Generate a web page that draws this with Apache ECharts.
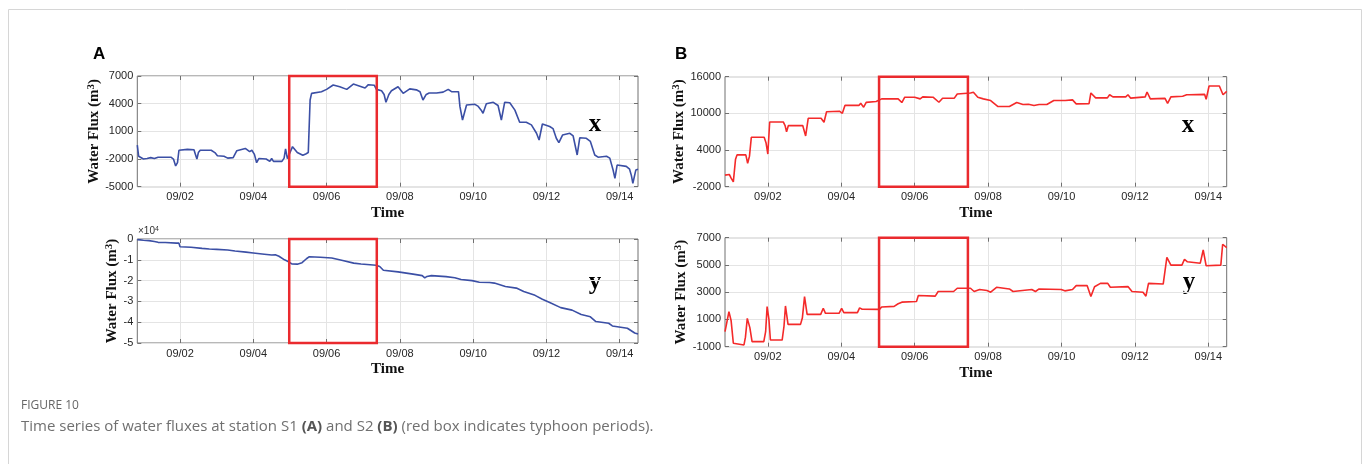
<!DOCTYPE html>
<html><head><meta charset="utf-8">
<script src="https://cdn.jsdelivr.net/npm/echarts@6/dist/echarts.min.js"></script>
<style>html,body{margin:0;padding:0;background:#fff}#c{width:1370px;height:464px}</style>
</head><body><div id="c"></div>
<script>
// time axis: days since 09/01 00:00
const dayTicks = [1, 3, 5, 7, 9, 11, 13];
const dayLabels = ['09/02', '09/04', '09/06', '09/08', '09/10', '09/12', '09/14'];
const tMin = -0.167, tMax = 13.5;

// typhoon box (days)
const boxA = [3.98, 6.37];
const boxB = [4.03, 6.45];

// Station S1, x
const s1x_t = [-0.167,-0.13,-0.08,0,0.1,0.2,0.3,0.4,0.75,0.82,0.88,0.93,0.97,1.2,1.38,1.42,1.46,1.5,1.55,1.85,1.95,2.02,2.2,2.3,2.45,2.55,2.78,2.9,2.96,3.03,3.09,3.15,3.35,3.45,3.5,3.55,3.78,3.84,3.88,3.93,3.97,4.07,4.2,4.35,4.43,4.5,4.55,4.59,4.64,4.86,5.0,5.18,5.36,5.55,5.73,5.91,6.05,6.14,6.3,6.36,6.5,6.57,6.62,6.7,6.77,6.95,7.09,7.27,7.45,7.55,7.63,7.72,7.8,8.0,8.18,8.32,8.41,8.6,8.64,8.71,8.82,9.05,9.14,9.22,9.27,9.36,9.55,9.68,9.77,9.86,10.0,10.14,10.27,10.45,10.59,10.73,10.8,10.89,11.09,11.18,11.27,11.34,11.44,11.64,11.73,11.84,11.91,12.09,12.2,12.32,12.41,12.64,12.73,12.82,12.87,12.93,13.18,13.27,13.32,13.36,13.44,13.5];
const s1x_v = [-500,-1700,-1900,-2000,-1950,-1850,-1950,-1800,-1800,-2000,-2750,-2400,-1050,-950,-1000,-1500,-2000,-1300,-1050,-1050,-1300,-1650,-1700,-1900,-1850,-1100,-850,-1200,-1050,-1500,-2400,-1950,-2000,-2250,-1950,-2250,-2250,-1900,-900,-1950,-2100,-660,-1300,-1600,-1450,-1300,4400,5120,5300,5300,5550,6025,5840,5550,6130,5900,5700,6060,6000,5550,5400,5000,4150,5000,5400,5840,5120,5600,5500,5300,4400,5000,5150,5150,5250,5550,5300,5300,3680,2230,3850,3930,3700,3300,2960,4000,4150,3800,2230,4150,4100,3300,1980,1980,1700,790,60,1800,1520,1300,250,-230,600,790,500,-1560,300,250,-100,-1560,-1800,-1700,-1900,-3190,-4090,-2650,-2800,-3100,-3800,-4630,-3200,-3110];

// Station S1, y
const s1y_t = [-0.167,0,0.15,0.3,0.4,0.6,0.9,0.97,1.0,1.3,1.6,1.8,2.0,2.3,2.5,2.8,3.0,3.3,3.5,3.6,3.7,3.85,3.95,4.05,4.2,4.33,4.45,4.53,4.83,5.14,5.44,5.74,5.94,6.35,6.45,6.55,6.95,7.36,7.61,7.68,7.74,7.86,8.26,8.5,8.67,8.97,9.17,9.45,9.58,9.88,10.18,10.38,10.69,10.89,11.09,11.39,11.7,11.95,12.2,12.35,12.7,12.8,13.21,13.41,13.5];
const s1y_v = [-300,-600,-800,-1200,-1600,-1700,-2000,-2000,-3700,-4000,-4500,-4800,-5000,-5300,-5800,-6300,-6700,-7300,-7700,-7600,-8300,-10000,-10800,-12000,-12100,-11400,-9500,-8500,-8800,-9100,-10300,-11600,-12000,-12600,-13200,-15000,-15800,-16900,-17600,-18700,-18000,-17600,-18100,-18600,-19500,-20000,-20800,-20900,-21200,-22800,-23600,-25200,-27100,-29000,-30500,-33000,-34200,-36300,-37400,-39700,-40500,-41800,-42900,-45200,-45700];

// Station S2, x
const s2x_t = [-0.167,-0.05,0.0,0.06,0.12,0.16,0.4,0.45,0.5,0.55,0.9,0.95,1.0,1.05,1.42,1.47,1.51,1.56,1.95,2.03,2.1,2.45,2.53,2.6,2.95,3.03,3.1,3.48,3.53,3.61,3.68,3.95,4.0,4.1,4.55,4.65,4.73,5.0,5.05,5.15,5.22,5.5,5.66,5.76,6.08,6.16,6.52,6.6,6.72,6.87,7.07,7.27,7.58,7.78,7.95,8.1,8.15,8.25,8.39,8.6,8.79,9.1,9.3,9.4,9.75,9.8,9.93,10.25,10.31,10.4,10.75,10.81,10.88,11.28,11.33,11.42,11.82,11.89,11.98,12.3,12.41,12.48,12.9,12.94,13.02,13.3,13.4,13.5];
const s2x_v = [-100,0,-600,-1200,2500,3200,3200,1830,3000,6080,6080,5200,3350,8590,8590,8000,7000,8000,8000,6300,9190,9190,8540,10270,10350,10000,11300,11300,11660,11010,11800,11930,11700,12370,12370,11770,12640,12640,12900,12370,12700,12640,11820,12480,12500,13180,13340,13450,12640,12370,12100,11120,11120,11770,11450,11500,11770,11300,11450,11450,12100,12100,12200,11560,11600,13340,12530,12530,13050,12700,12700,13050,12500,12700,13500,12370,12450,11640,12700,12800,13050,13050,13100,12290,14480,14480,13050,13600];

// Station S2, y
const s2y_t = [-0.167,-0.13,-0.06,-0.04,0.0,0.06,0.09,0.35,0.39,0.44,0.47,0.51,0.57,0.89,0.94,0.98,1.03,1.07,1.39,1.44,1.48,1.55,1.89,1.94,2.0,2.07,2.44,2.51,2.57,2.94,3.01,3.07,3.44,3.5,3.57,4.04,4.1,4.44,4.55,4.65,5.05,5.1,5.56,5.64,6.06,6.16,6.52,6.62,6.77,6.97,7.07,7.23,7.58,7.68,8.19,8.29,8.39,8.99,9.09,9.3,9.4,9.7,9.8,9.9,10.06,10.26,10.33,10.81,10.92,11.22,11.3,11.37,11.77,11.87,11.98,12.28,12.35,12.43,12.78,12.86,12.94,13.34,13.39,13.5];
const s2y_v = [100,600,1570,1640,900,-750,-870,-870,-300,1080,1200,400,-630,-630,100,1940,1000,-510,-510,500,1990,640,640,1100,2670,1370,1370,1820,1450,1450,1820,1500,1500,1850,1750,1740,1910,1960,2150,2270,2320,2760,2710,3050,3050,3290,3290,3050,3200,3120,3000,3360,3240,3050,3200,3050,3240,3200,3100,3200,3480,3480,2690,3400,3650,3650,3360,3410,3050,3000,2710,3650,3600,5550,4990,4990,5420,5230,5130,6100,4940,4990,6520,6270];

// y ticks
const yA1 = {min: -5000, max: 7000, interval: 3000};
const yA2 = {min: -50000, max: 0, interval: 10000};
const yB1 = {min: -2000, max: 16000, interval: 6000};
const yB2 = {min: -1000, max: 7000, interval: 2000};

const zip = (t, v) => t.map((x, i) => [x, v[i]]);
const BLUE = '#3b4fa5', RED = '#f42a2a', BOX = '#ea2a2e';
const AX = '#707070', GRID = '#e4e4e4';
const serif = '"Liberation Serif","Times New Roman",serif';
const sans = '"Liberation Sans",Arial,sans-serif';

const grids = [
  {left: 137.3, top: 76, width: 500.7, height: 110.7},
  {left: 137.3, top: 239, width: 500.7, height: 104},
  {left: 725, top: 76.7, width: 501.7, height: 110},
  {left: 725, top: 237.7, width: 501.7, height: 109}
].map(g => Object.assign({show: true, borderColor: AX, borderWidth: 1, backgroundColor: '#fff'}, g));

const yCfg = [yA1, yA2, yB1, yB2];
const nameGaps = [30, 13, 33, 32];
const xAxes = [], yAxes = [];
for (let i = 0; i < 4; i++) {
  xAxes.push({
    type: 'value', gridIndex: i, min: tMin, max: tMax, position: 'bottom',
    axisLine: {show: false, onZero: false},
    axisTick: {show: true, inside: true, length: 4, customValues: dayTicks, lineStyle: {color: AX}},
    axisLabel: {customValues: dayTicks, formatter: v => dayLabels[dayTicks.indexOf(v)] || '', color: '#262626', fontSize: 11, fontFamily: sans, margin: 5},
    splitLine: {show: true, lineStyle: {color: GRID, width: 1}},
    name: 'Time', nameLocation: 'middle', nameGap: 19,
    nameTextStyle: {fontFamily: serif, fontWeight: 'bold', fontSize: 15, color: '#111'}
  });
  yAxes.push({
    type: 'value', gridIndex: i, min: yCfg[i].min, max: yCfg[i].max, interval: yCfg[i].interval,
    axisLine: {show: false, onZero: false},
    axisTick: {show: true, inside: true, length: 4, lineStyle: {color: AX}},
    axisLabel: {color: '#262626', fontSize: 11, fontFamily: sans, margin: 4,
      formatter: i === 1 ? (v => String(v / 10000)) : (v => String(v))},
    splitLine: {show: true, lineStyle: {color: GRID, width: 1}},
    name: 'Water Flux (m{s|3})', nameLocation: 'middle', nameGap: nameGaps[i], nameRotate: 90,
    nameTextStyle: {fontFamily: serif, fontWeight: 'bold', fontSize: 15, color: '#111',
      rich: {s: {fontFamily: serif, fontWeight: 'bold', fontSize: 11, color: '#111', verticalAlign: 'top', padding: [0, 0, 6, 0]}}}
  });
}
for (let i = 0; i < 4; i++) {
  xAxes.push({
    type: 'value', gridIndex: i, min: tMin, max: tMax, position: 'top',
    axisLine: {show: false, onZero: false},
    axisTick: {show: true, inside: true, length: 4, customValues: dayTicks, lineStyle: {color: AX}},
    axisLabel: {show: false}, splitLine: {show: false}
  });
  yAxes.push({
    type: 'value', gridIndex: i, min: yCfg[i].min, max: yCfg[i].max, interval: yCfg[i].interval, position: 'right',
    axisLine: {show: false, onZero: false},
    axisTick: {show: true, inside: true, length: 4, lineStyle: {color: AX}},
    axisLabel: {show: false}, splitLine: {show: false}
  });
}

function mkSeries(i, t, v, color, box) {
  return {
    type: 'line', xAxisIndex: i, yAxisIndex: i, data: zip(t, v),
    symbol: 'none', showSymbol: false, lineStyle: {color: color, width: 1.6},
    z: 3,
    markArea: {silent: true, z: 5,
      itemStyle: {color: 'rgba(0,0,0,0)', borderColor: BOX, borderWidth: 2.5},
      data: [[{xAxis: box[0]}, {xAxis: box[1]}]]}
  };
}

const chart = echarts.init(document.getElementById('c'), null, {renderer: 'canvas'});
chart.setOption({
  animation: false,
  backgroundColor: '#fff',
  grid: grids,
  xAxis: xAxes,
  yAxis: yAxes,
  series: [
    mkSeries(0, s1x_t, s1x_v, BLUE, boxA),
    mkSeries(1, s1y_t, s1y_v, BLUE, boxA),
    mkSeries(2, s2x_t, s2x_v, RED, boxB),
    mkSeries(3, s2y_t, s2y_v, RED, boxB)
  ],
  graphic: [
    {type: 'rect', shape: {x: 8.5, y: 9.5, width: 1353, height: 470}, style: {fill: 'none', stroke: '#d6d6d6', lineWidth: 1}, silent: true},
    {type: 'text', x: 93, y: 46, style: {text: 'A', font: 'bold 17px ' + sans, fill: '#000'}},
    {type: 'text', x: 675, y: 46, style: {text: 'B', font: 'bold 17px ' + sans, fill: '#000'}},
    {type: 'text', x: 595, y: 125, style: {text: 'x', font: 'bold 25px ' + serif, fill: '#000', textAlign: 'center', textVerticalAlign: 'middle'}},
    {type: 'text', x: 1188, y: 126, style: {text: 'x', font: 'bold 25px ' + serif, fill: '#000', textAlign: 'center', textVerticalAlign: 'middle'}},
    {type: 'text', x: 595, y: 283, style: {text: 'y', font: 'bold 25px ' + serif, fill: '#000', textAlign: 'center', textVerticalAlign: 'middle'}},
    {type: 'text', x: 1189, y: 283, style: {text: 'y', font: 'bold 25px ' + serif, fill: '#000', textAlign: 'center', textVerticalAlign: 'middle'}},
    {type: 'text', x: 138, y: 226, style: {text: '×10{s|4}', font: '10px ' + sans, fill: '#333',
      rich: {s: {fontSize: 7, fontFamily: sans, fill: '#333', verticalAlign: 'top', padding: [0, 0, 4, 0]}}}},
    {type: 'text', x: 21, y: 400, style: {text: 'FIGURE 10', font: '12px "Open Sans"', fill: '#666'}},
    {type: 'text', x: 21, y: 419, style: {text: 'Time series of water fluxes at station S1 {b|(A)} and S2 {b|(B)} (red box indicates typhoon periods).',
      font: '15px "Open Sans"', fill: '#707070',
      rich: {b: {fontWeight: 'bold', fontSize: 15, fontFamily: '"Open Sans"', fill: '#555'}}}}
  ]
});
</script></body></html>
